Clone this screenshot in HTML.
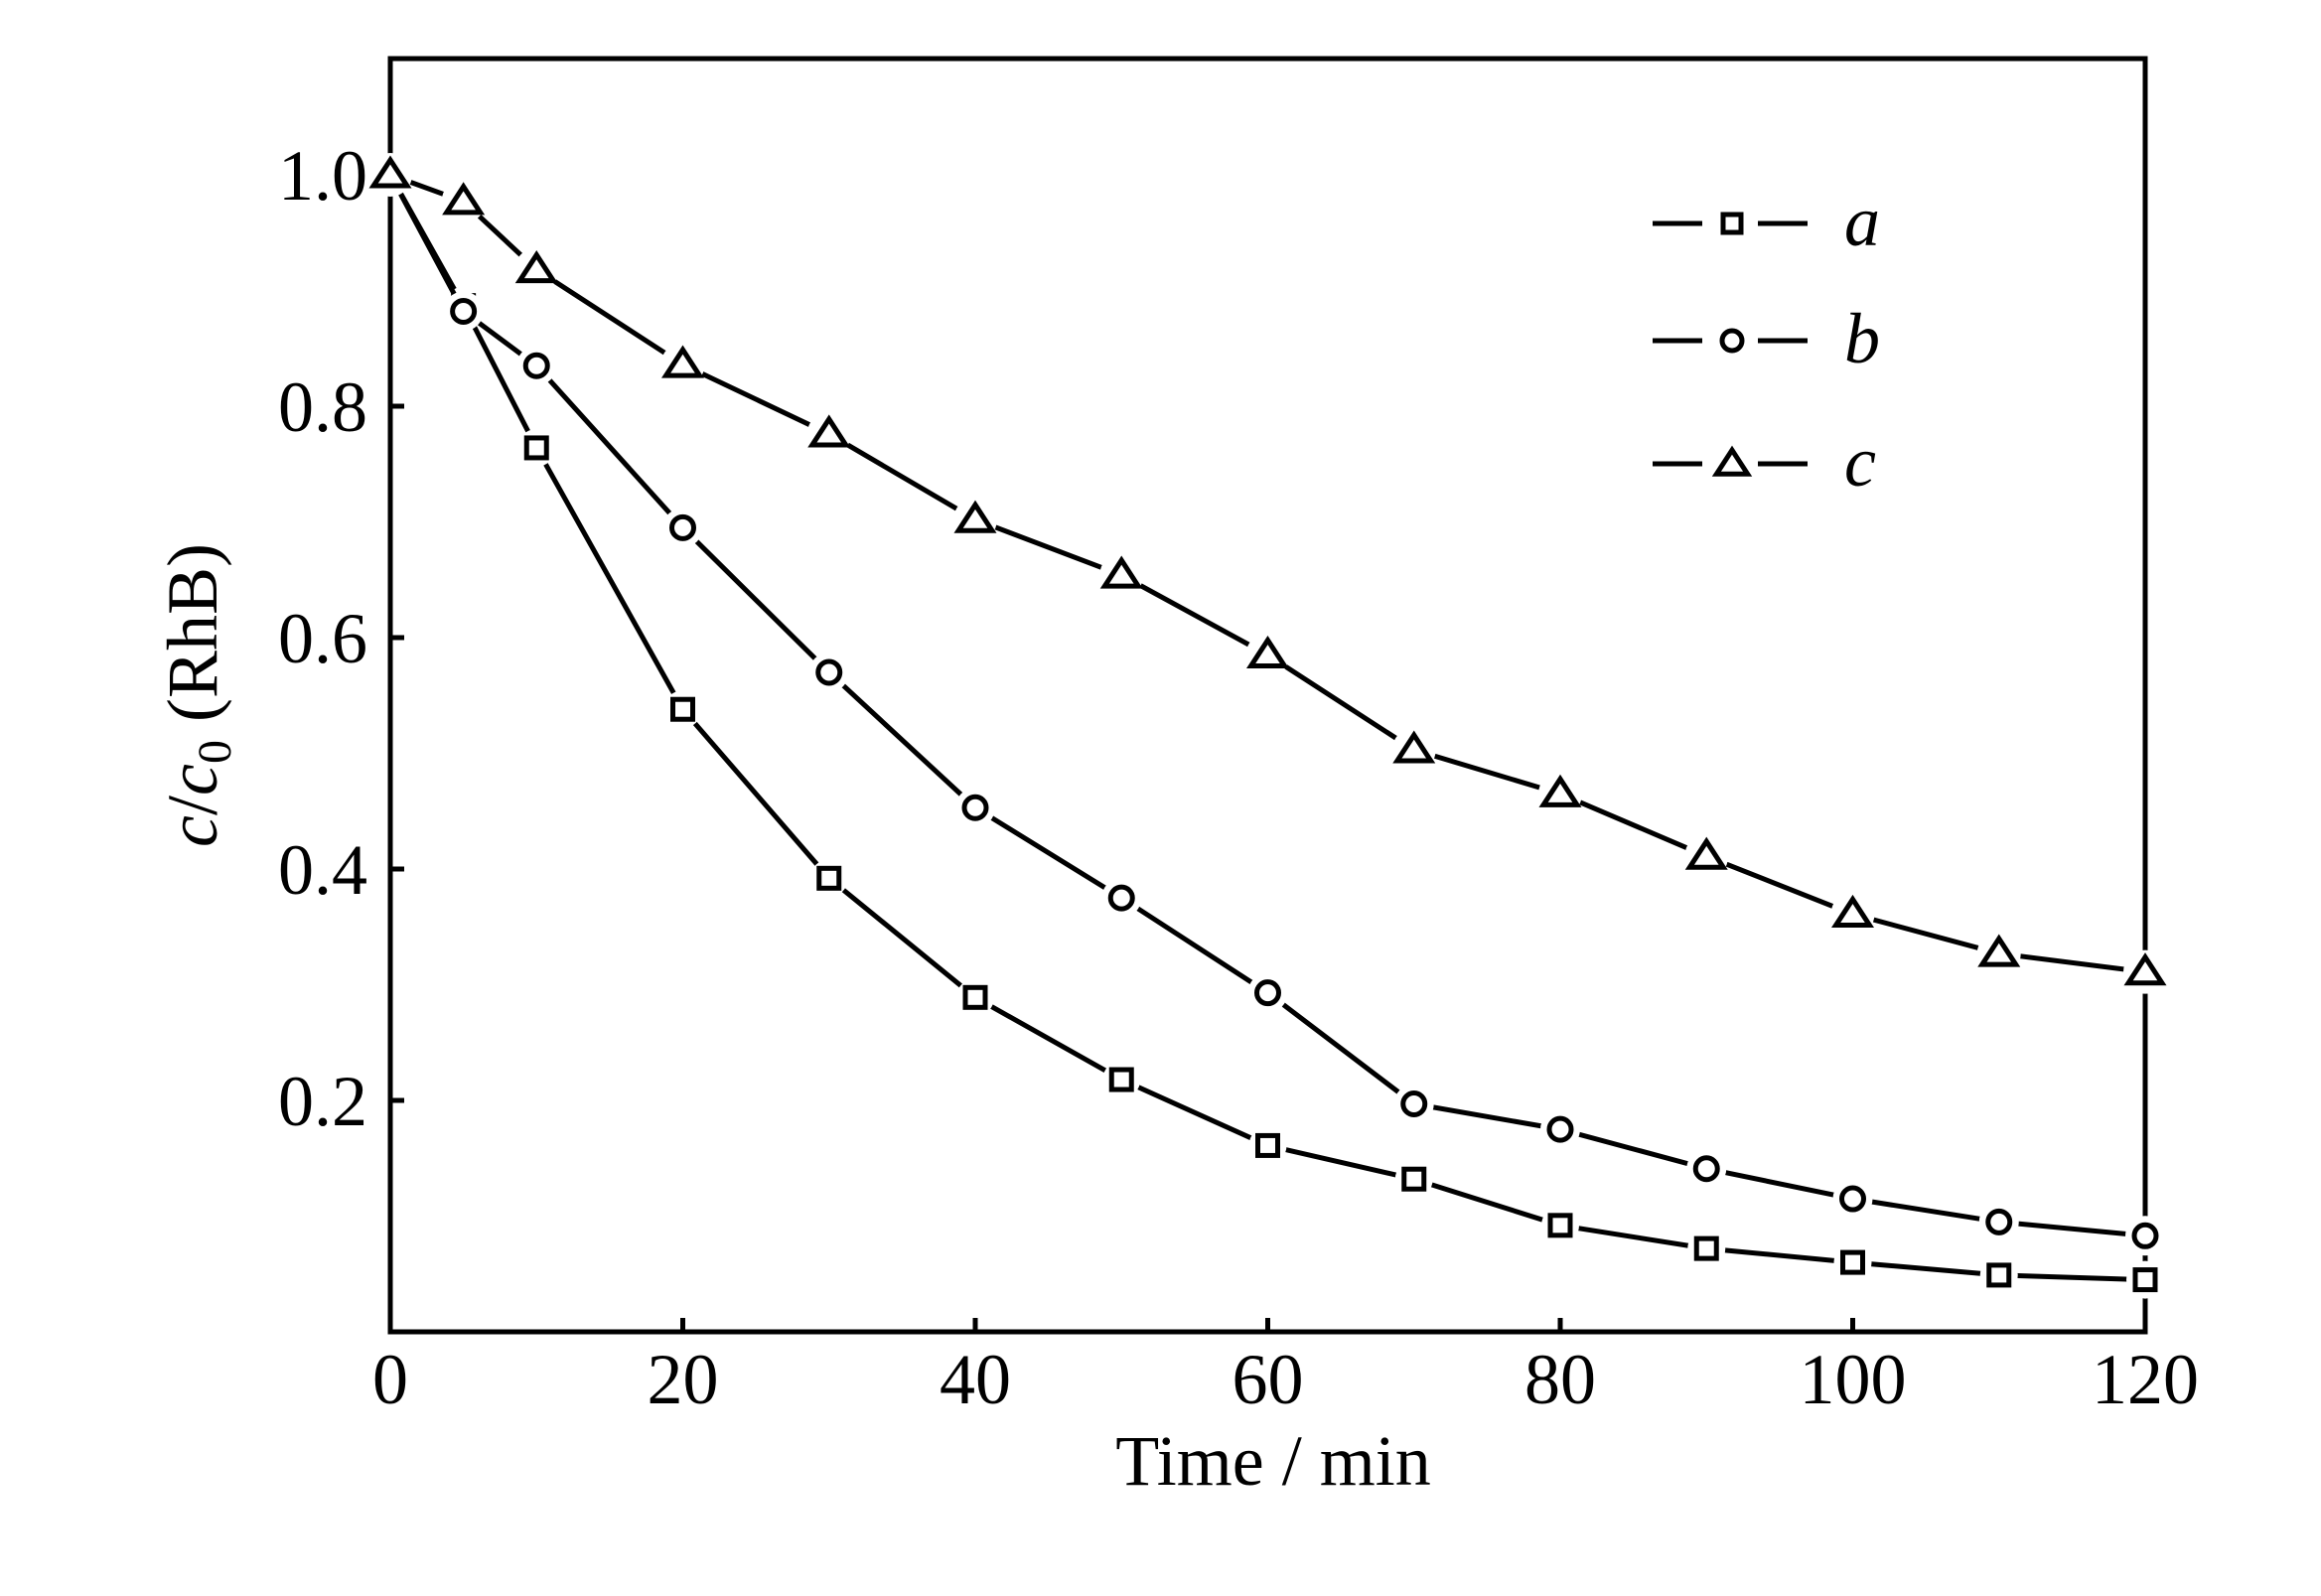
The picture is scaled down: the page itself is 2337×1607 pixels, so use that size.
<!DOCTYPE html>
<html><head><meta charset="utf-8"><style>
html,body{margin:0;padding:0;background:#fff}
svg{display:block}
text{font-family:"Liberation Serif",serif;fill:#000}
</style></head><body>
<svg width="2337" height="1607" viewBox="0 0 2337 1607">
<g id="plot"></g>
</svg>
<script>
const xVals=[0,5,10,20,30,40,50,60,70,80,90,100,110,120];
const seriesA=[1.0,0.887,0.764,0.538,0.392,0.289,0.218,0.161,0.132,0.092,0.072,0.060,0.049,0.045];
const seriesB=[1.0,0.882,0.835,0.695,0.570,0.453,0.375,0.293,0.197,0.175,0.141,0.115,0.095,0.083];
const seriesC=[1.0,0.977,0.918,0.836,0.776,0.702,0.654,0.585,0.503,0.465,0.411,0.361,0.327,0.311];
const xTicks=[0,20,40,60,80,100,120];
const yTicks=[0.2,0.4,0.6,0.8,1.0];
const yTickLabels=["0.2","0.4","0.6","0.8","1.0"];

const L=393,R=2160,T=59,B=1341;
const X=v=>L+(v-0)/120*(R-L);
const Y=v=>B-v*1165;
const NS="http://www.w3.org/2000/svg";
const g=document.getElementById('plot');
function mk(tag,attrs,parent){const e=document.createElementNS(NS,tag);for(const k in attrs)e.setAttribute(k,attrs[k]);(parent||g).appendChild(e);return e;}

// frame
const frame=mk('rect',{x:L,y:T,width:R-L,height:B-T,fill:'none',stroke:'#000','stroke-width':5});



xTicks.forEach(v=>{
  const t=mk('line',{x1:X(v),x2:X(v),y1:B,y2:B-14,stroke:'#000','stroke-width':5});
  
  
  const tx=mk('text',{x:X(v),y:1413,'font-size':72,'text-anchor':'middle'});
  tx.textContent=String(v);
  
  
});
yTicks.forEach((v,i)=>{
  const t=mk('line',{x1:L,x2:L+14,y1:Y(v),y2:Y(v),stroke:'#000','stroke-width':5});
  
  
  const tx=mk('text',{x:370,y:Y(v)+25,'font-size':72,'text-anchor':'end'});
  tx.textContent=yTickLabels[i];
  
  
});

function marker(type,cx,cy,s,parent){
  let e;
  if(type==='sq') e=mk('rect',{x:cx-s,y:cy-s,width:2*s,height:2*s,fill:'#fff',stroke:'#000','stroke-width':5},parent);
  else if(type==='ci') e=mk('circle',{cx:cx,cy:cy,r:s,fill:'#fff',stroke:'#000','stroke-width':5},parent);
  else e=mk('polygon',{points:`${cx},${cy-s*1.15} ${cx-s*1.3},${cy+s*0.85} ${cx+s*1.3},${cy+s*0.85}`,fill:'#fff',stroke:'#000','stroke-width':5,'stroke-linejoin':'miter'},parent);
  return e;
}
const series=[['a',seriesA,'sq',10],['b',seriesB,'ci',11],['c',seriesC,'tr',13]];
series.forEach(([n,vals,m,s])=>{
  const sg=mk('g',{});
  
  
  const pts=xVals.map((x,i)=>X(x)+','+Y(vals[i])).join(' ');
  const halo=mk('polyline',{points:pts,fill:'none',stroke:'#000','stroke-width':5,'stroke-linejoin':'round'},sg);
  
  
  xVals.forEach((x,i)=>{
    mk('circle',{cx:X(x),cy:Y(vals[i]),r:s+9,fill:'#fff'},sg);
  });
  xVals.forEach((x,i)=>{
    const e=marker(m,X(x),Y(vals[i]),s,sg);
    
    
  });
});

// legend
const legRows=[['a','sq',225,9],['b','ci',343,10],['c','tr',467,12]];
legRows.forEach(([n,m,y,s])=>{
  const lg=mk('g',{});
  
  
  mk('line',{x1:1664,x2:1714,y1:y,y2:y,stroke:'#000','stroke-width':5},lg);
  mk('line',{x1:1770,x2:1820,y1:y,y2:y,stroke:'#000','stroke-width':5},lg);
  marker(m,1744,y,s,lg);
  const t=mk('text',{x:1857,y:y+22,'font-size':72,'font-style':'italic'},lg);
  t.textContent=n;
});
</script>
<svg width="0" height="0"></svg>
<div style="position:absolute;left:0;top:0;width:2337px;height:1607px;pointer-events:none">
<svg width="2337" height="1607">
<text x="1282" y="1495" font-size="72" text-anchor="middle">Time / min</text>
<g transform="translate(218,700) rotate(-90)">
<text x="0" y="0" font-size="72" text-anchor="middle"><tspan font-style="italic">c</tspan>/<tspan font-style="italic">c</tspan><tspan font-size="48" dy="14">0</tspan><tspan dy="-14"> (RhB)</tspan></text>
</g>
</svg>
</div>
</body></html>
